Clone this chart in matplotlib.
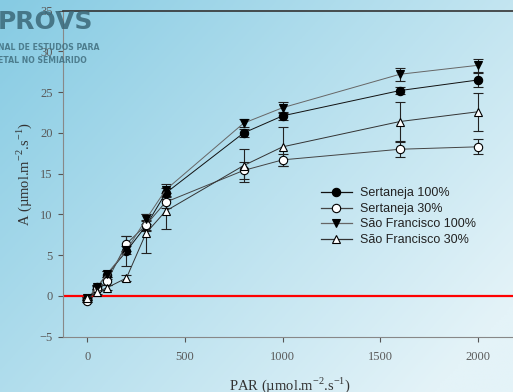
import matplotlib.pyplot as plt
from matplotlib.lines import Line2D
import numpy as np

# light response curves, A vs PAR
par = [0, 50, 100, 200, 300, 400, 800, 1000, 1600, 2000]

sert100 = [-0.5, 1.1, 2.6, 5.5, 8.6, 12.6, 20.0, 22.1, 25.2, 26.5]
sert100_err = [0.2, 0.3, 0.5, 1.8, 0.6, 0.7, 0.5, 0.5, 0.4, 0.9]
sert30 = [-0.6, 0.9, 1.8, 6.4, 8.7, 11.5, 15.4, 16.7, 18.0, 18.3]
sert30_err = [0.2, 0.3, 0.5, 0.9, 0.6, 0.7, 1.0, 0.7, 0.9, 0.9]
sf100 = [-0.3, 1.1, 2.7, 5.6, 9.4, 13.0, 21.2, 23.1, 27.2, 28.3]
sf100_err = [0.2, 0.3, 0.4, 0.5, 0.6, 0.7, 0.5, 0.7, 0.8, 0.8]
sf30 = [-0.3, 0.5, 1.0, 2.2, 7.7, 10.4, 16.0, 18.3, 21.4, 22.6]
sf30_err = [0.2, 0.2, 0.3, 0.4, 2.4, 2.2, 2.0, 2.4, 2.4, 2.3]

labels = ['Sertaneja 100%', 'Sertaneja 30%', 'São Francisco 100%', 'São Francisco 30%']
xticks = [0, 500, 1000, 1500, 2000]
yticks = [-5, 0, 5, 10, 15, 20, 25, 30, 35]

plt.rcParams['mathtext.fontset'] = 'custom'
plt.rcParams['mathtext.rm'] = 'Liberation Serif'

fig = plt.figure(figsize=(5.13, 3.92), dpi=100)

# slide background gradient
bg = fig.add_axes([0, 0, 1, 1], zorder=-10)
u, v = np.meshgrid(np.linspace(0, 1, 200), np.linspace(0, 1, 160))
t = np.clip(0.65 * u + 0.45 * v, 0, 1)
c1 = np.array([0x86, 0xcb, 0xe3]) / 255
c2 = np.array([0xe4, 0xf3, 0xf8]) / 255
img = c1[None, None, :] * (1 - t[..., None]) + c2[None, None, :] * t[..., None]
bg.imshow(img, aspect='auto', extent=[0, 1, 0, 1])
bg.axis('off')

# logo remains in the corner
fig.text(-0.004, 0.975, 'PROVS', fontsize=18, fontweight='bold', color='#3b6878',
         alpha=0.85, va='top', ha='left')
fig.text(-0.004, 0.878, 'NAL DE ESTUDOS PARA', fontsize=5.6, fontweight='bold',
         color='#3b6878', alpha=0.8, va='center')
fig.text(-0.004, 0.845, 'ETAL NO SEMIARIDO', fontsize=5.6, fontweight='bold',
         color='#3b6878', alpha=0.8, va='center')

ax = fig.add_axes([63 / 513, 1 - 336.7 / 392, 454 / 513, (336.7 - 10.7) / 392])
ax.patch.set_alpha(0)

ax.axhline(0, color='#ff0000', lw=1.6, zorder=1)

styles = [
    (sert100, sert100_err, 'o', 'black', '#111111'),
    (sert30, sert30_err, 'o', 'white', '#444444'),
    (sf100, sf100_err, 'v', 'black', '#666666'),
    (sf30, sf30_err, '^', 'white', '#333333'),
]
handles = []
for (y, e, m, fc, lc), lab in zip(styles, labels):
    ax.errorbar(par, y, yerr=e, marker=m, ms=6, mfc=fc, mec='black', mew=0.8,
                color=lc, lw=0.7, ecolor='#222222', elinewidth=0.8, capsize=3.5,
                capthick=1.0, zorder=3)
    handles.append(Line2D([], [], marker=m, ms=6, mfc=fc, mec='black', mew=0.8,
                          color=lc, lw=0.9))

ax.set_xlim(-125, 2200)
ax.set_ylim(-5, 35)
ax.set_xticks(xticks)
ax.set_yticks(yticks)

for s in ['left', 'bottom']:
    ax.spines[s].set_color('#888888')
ax.spines['top'].set_color('#333333')
ax.spines['top'].set_linewidth(1.2)
ax.spines['right'].set_visible(False)
ax.tick_params(direction='out', length=3.5, color='#555555', width=0.8,
               labelsize=9, labelcolor='#5a5a5a')
ax.tick_params(axis='y', pad=4)
ax.tick_params(axis='x', pad=7)
for lb in ax.get_xticklabels() + ax.get_yticklabels():
    lb.set_family('Liberation Serif')

ax.set_xlabel('PAR (µmol.m$^{-2}$.s$^{-1}$)', family='Liberation Serif',
              fontsize=10.5, color='#333333')
ax.set_ylabel('A (µmol.m$^{-2}$.s$^{-1}$)', family='Liberation Serif',
              fontsize=10.5, color='#333333')
ax.xaxis.set_label_coords(0.5, -0.118)
ax.yaxis.set_label_coords(-0.063, 0.5)

ax.legend(handles, labels, loc='upper left', bbox_to_anchor=(0.568, 0.458),
          borderpad=0, borderaxespad=0, frameon=False,
          prop={'family': 'Liberation Sans', 'size': 9},
          handlelength=2.5, handletextpad=0.6, labelspacing=0.28,
          labelcolor='#222222')

fig.savefig('out.png', dpi=100)
